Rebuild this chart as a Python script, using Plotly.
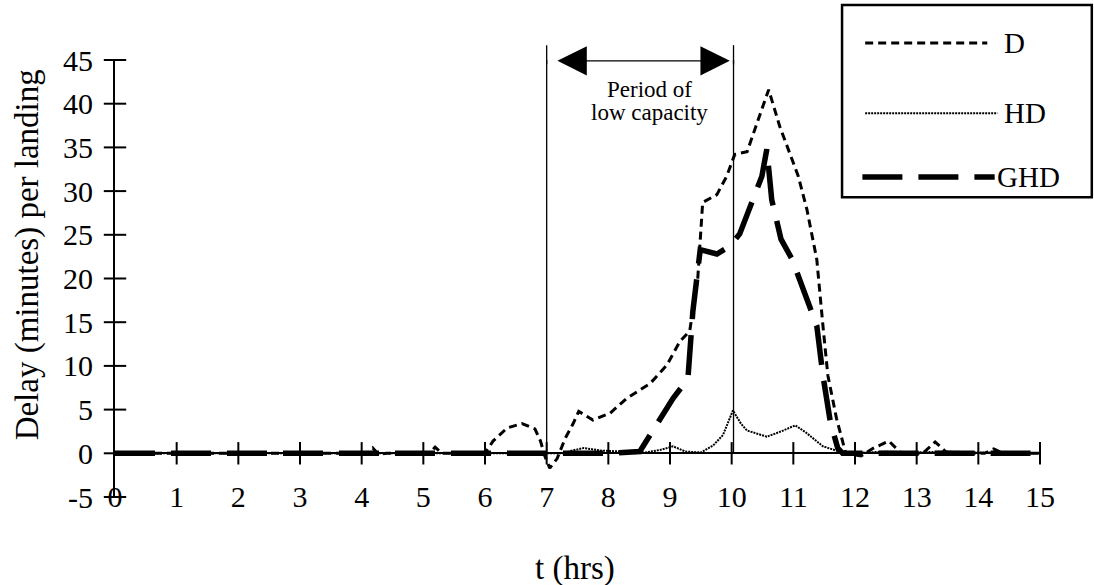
import plotly.graph_objects as go

# ---- data ----
t_D = [0, 1, 2, 3, 4, 4.1, 4.18, 4.27, 4.4, 5.0, 5.1, 5.19, 5.3, 6.0, 6.13, 6.36, 6.6, 6.81, 6.9, 6.97,
       7.05, 7.17, 7.3, 7.43, 7.52, 7.75, 8.03, 8.3, 8.68, 8.95, 9.16, 9.32, 9.45, 9.53, 9.76, 9.92,
       10.05, 10.25, 10.45, 10.6, 10.78, 11.08, 11.22, 11.38, 11.48, 11.56, 11.7, 11.85, 12.1, 12.3,
       12.55, 12.75, 13.1, 13.3, 13.5, 14.1, 14.25, 14.4, 15]
D = [0, 0, 0, 0, 0, 0, 0.6, -0.1, 0, 0, 0, 0.7, 0, 0, 1.4, 2.9, 3.4, 2.8, 1.4, -0.3,
     -1.7, -0.6, 1.7, 3.4, 4.8, 3.8, 4.6, 6.3, 8.0, 10.1, 12.8, 14.0, 20.0, 28.7, 29.6, 31.7,
     34.2, 34.5, 38.5, 41.6, 37.4, 31.7, 27.9, 22.2, 14.6, 8.9, 4.0, 0, -0.3, 0.6,
     1.4, 0, 0, 1.3, 0, 0, 0.5, 0, 0]

t_HD = [0, 1, 2, 3, 4, 5, 6, 7, 7.3, 7.4, 7.6, 7.9, 8.2, 8.6, 8.85, 9.05, 9.25, 9.5, 9.7, 9.86,
        10.02, 10.15, 10.25, 10.57, 10.8, 11.03, 11.2, 11.48, 11.7, 11.9, 12.5, 13.0, 13.5, 14.0, 15]
HD = [0, 0, 0, 0, 0, 0, 0, 0, 0, 0.3, 0.6, 0.3, 0.2, 0.1, 0.4, 0.8, 0.2, 0.1, 0.9, 2.1,
      4.9, 3.4, 2.6, 1.9, 2.5, 3.2, 2.4, 0.8, 0.3, 0, 0.2, 0.1, 0.2, 0.1, 0]

t_GHD = [0, 1, 2, 3, 4, 5, 6, 7, 8, 8.51, 8.84, 9.05, 9.29, 9.37, 9.49, 9.76, 9.97, 10.13,
         10.49, 10.57, 10.65, 10.8, 10.98, 11.22, 11.38, 11.48, 11.6, 11.72, 11.8, 12.5, 13, 14, 15]
GHD = [0, 0, 0, 0, 0, 0, 0, 0, 0, 0.2, 3.8, 6.3, 8.5, 16.2, 23.3, 22.8, 23.7, 25.1,
       31.7, 34.8, 29.0, 24.5, 22.2, 17.7, 14.6, 8.9, 3.6, 0.6, 0, 0, 0, 0, 0]

x_ticks = list(range(0, 16))
x_tick_labels = [str(v) for v in x_ticks]
y_ticks = list(range(-5, 50, 5))
y_tick_labels = ["-5", "0", "5", "10", "15", "20", "25", "30", "35", "40", "45"]
period = [7, 10.03]

FONT = "Liberation Serif"
D_DASH = "8px,5px"
HD_DASH = "2px,1px"
GHD_DASH = "40px,16px"

fig = go.Figure()

fig.add_trace(go.Scatter(x=t_GHD, y=GHD, mode="lines", name="GHD",
                         line=dict(color="black", width=5.5, dash=GHD_DASH), cliponaxis=False))
fig.add_trace(go.Scatter(x=t_D, y=D, mode="lines", name="D",
                         line=dict(color="black", width=3, dash=D_DASH), cliponaxis=False))
fig.add_trace(go.Scatter(x=t_HD, y=HD, mode="lines", name="HD",
                         line=dict(color="black", width=2, dash=HD_DASH), cliponaxis=False))

# crossing tick marks
fig.add_trace(go.Scatter(x=x_ticks[1:], y=[0] * (len(x_ticks) - 1), mode="markers",
                         marker=dict(symbol="line-ns", size=16, line=dict(color="black", width=2)),
                         cliponaxis=False, hoverinfo="skip"))
fig.add_trace(go.Scatter(x=[0] * len(y_ticks), y=y_ticks, mode="markers",
                         marker=dict(symbol="line-ew", size=16, line=dict(color="black", width=2)),
                         cliponaxis=False, hoverinfo="skip"))

# period of low capacity lines
for p in period:
    fig.add_shape(type="line", xref="x", yref="y", x0=p, x1=p, y0=0, y1=45,
                  line=dict(color="black", width=1.3))
    fig.add_shape(type="line", xref="x", yref="paper", x0=p, x1=p, y0=0.99, y1=1.034,
                  line=dict(color="black", width=1.3))

annotations = [
    dict(x=9.97, y=44.9, ax=7.15, ay=44.9, xref="x", yref="y", axref="x", ayref="y",
         text="", showarrow=True, arrowhead=2, arrowside="end+start", arrowsize=4.2,
         arrowwidth=1.4, arrowcolor="black"),
    dict(x=8.67, y=41.57, xref="x", yref="y", text="Period of", showarrow=False,
         font=dict(family=FONT, size=23, color="black"), xanchor="center", yanchor="middle"),
    dict(x=8.67, y=38.94, xref="x", yref="y", text="low capacity", showarrow=False,
         font=dict(family=FONT, size=23, color="black"), xanchor="center", yanchor="middle"),
    dict(x=-0.0951, y=0.553, xref="paper", yref="paper", text="Delay (minutes) per landing",
         textangle=-90, showarrow=False, xanchor="center", yanchor="middle",
         font=dict(family=FONT, size=33, color="black")),
    dict(x=0.497, y=-0.1625, xref="paper", yref="paper", text="t (hrs)", showarrow=False,
         xanchor="center", yanchor="middle",
         font=dict(family=FONT, size=33, color="black")),
]

# legend box (drawn manually)
fig.add_shape(type="rect", xref="paper", yref="paper", x0=0.786, x1=1.056, y0=0.686, y1=1.126,
              line=dict(color="black", width=2.5), fillcolor="white", layer="above")
legend_items = [("D", D_DASH, 3, 1.039, 0.811, 0.943, 0.959),
                ("HD", HD_DASH, 2, 0.878, 0.811, 0.954, 0.959),
                ("GHD", GHD_DASH, 5.5, 0.732, 0.808, 0.951, 0.951)]
for name, dash, w, yy, xa, xb, xt in legend_items:
    fig.add_shape(type="line", xref="paper", yref="paper", x0=xa, x1=xb, y0=yy, y1=yy,
                  line=dict(color="black", width=w, dash=dash), layer="above")
    annotations.append(dict(x=xt, y=yy, xref="paper", yref="paper", text=name, showarrow=False,
                            xanchor="left", yanchor="middle",
                            font=dict(family=FONT, size=29, color="black")))

fig.update_layout(
    width=1094, height=585,
    margin=dict(l=115, r=54, t=60, b=88),
    paper_bgcolor="white", plot_bgcolor="white",
    showlegend=False,
    annotations=annotations,
    xaxis=dict(range=[0, 15], tickvals=x_ticks, ticktext=x_tick_labels, ticks="", showgrid=False,
               zeroline=False, showline=False,
               tickfont=dict(family=FONT, size=30, color="black"), ticklabelstandoff=-21),
    yaxis=dict(range=[-5, 45], tickvals=y_ticks, ticktext=y_tick_labels, ticks="", showgrid=False,
               zeroline=True, zerolinecolor="black", zerolinewidth=2, showline=True,
               linecolor="black", linewidth=2,
               tickfont=dict(family=FONT, size=30, color="black"), ticklabelstandoff=14),
)

fig.write_html("out.html", config={"displayModeBar": False},
               post_script="document.body.style.margin='0';document.body.style.overflow='hidden';")
